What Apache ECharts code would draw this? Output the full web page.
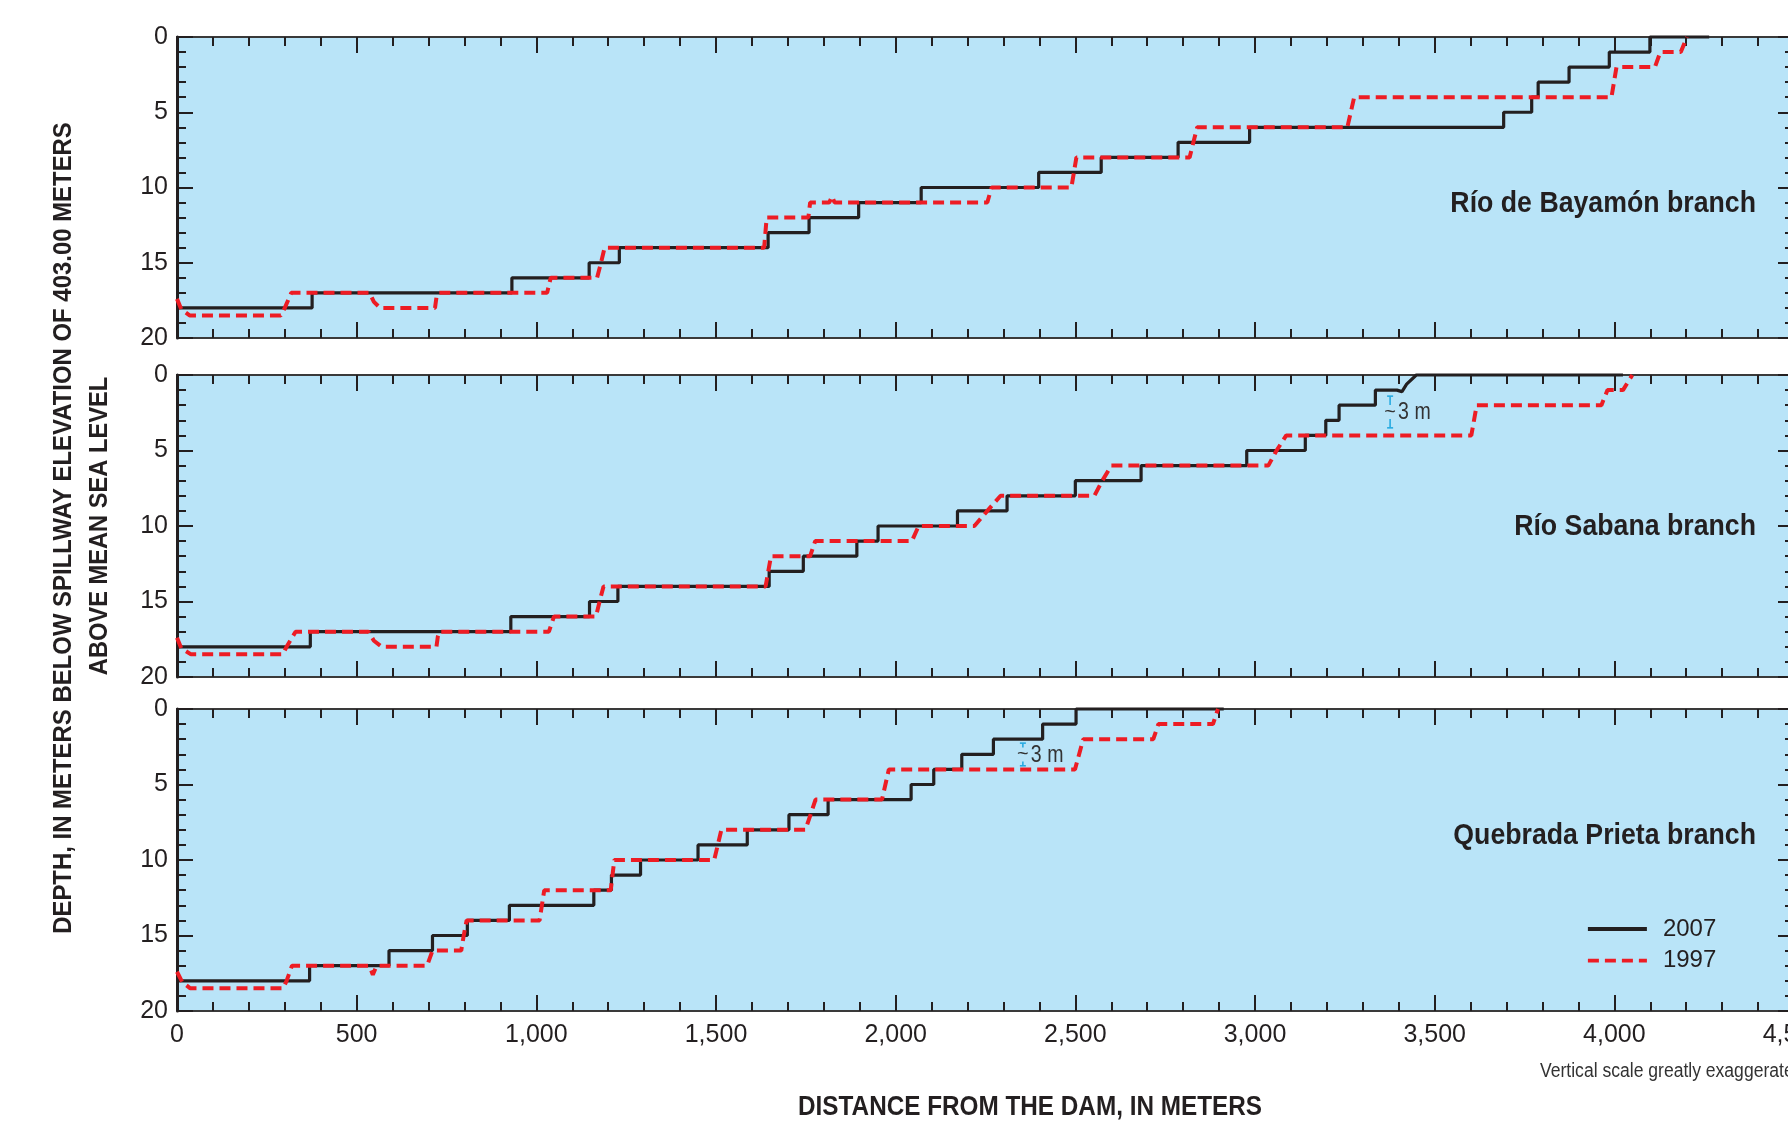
<!DOCTYPE html>
<html>
<head>
<meta charset="utf-8">
<script src="https://cdn.jsdelivr.net/npm/echarts@6/dist/echarts.min.js"></script>
<style>
html,body{margin:0;padding:0;background:#ffffff;}
#chart{width:1788px;height:1123px;}
</style>
</head>
<body>
<div id="chart"></div>
<script>
// ---------- data ----------
const distanceTicks = [0, 500, 1000, 1500, 2000, 2500, 3000, 3500, 4000, 4500];
const depthTicks = [0, 5, 10, 15, 20];
const branchNames = ['Río de Bayamón branch', 'Río Sabana branch', 'Quebrada Prieta branch'];
const surveyYears = ['2007', '1997'];

// [distance from dam (m), depth below spillway (m)]
const bayamon2007 = [[0,18],[376,18],[376,17],[932,17],[932,16],[1147,16],[1147,15],[1231,15],[1231,14],[1645,14],[1645,13],[1759,13],[1759,12],[1897,12],[1897,11],[2071,11],[2071,10],[2398,10],[2398,9],[2572,9],[2572,8],[2786,8],[2786,7],[2985,7],[2985,6],[3692,6],[3692,5],[3770,5],[3770,4],[3788,4],[3788,3],[3874,3],[3874,2],[3986,2],[3986,1],[4099,1],[4099,0],[4264,0]];
const bayamon1997 = [[0,17.4],[12,18.1],[35,18.5],[289,18.5],[300,18],[318,17],[536,17],[548,17.6],[565,18],[718,18],[722,17.3],[728,17],[1030,17],[1040,16],[1169,16],[1180,15],[1190,14],[1634,14],[1641,12],[1757,12],[1762,11],[1815,11],[1823,10.6],[1830,11],[2255,11],[2267,10],[2489,10],[2503,8],[2818,8],[2839,6],[3257,6],[3276,4],[3992,4],[4006,2],[4113,2],[4128,1],[4185,1],[4202,0]];

const sabana2007 = [[0,18],[371,18],[371,17],[929,17],[929,16],[1148,16],[1148,15],[1227,15],[1227,14],[1648,14],[1648,13],[1743,13],[1743,12],[1892,12],[1892,11],[1951,11],[1951,10],[2172,10],[2172,9],[2310,9],[2310,8],[2500,8],[2500,7],[2683,7],[2683,6],[2977,6],[2977,5],[3140,5],[3140,4],[3197,4],[3197,3],[3234,3],[3234,2],[3335,2],[3335,1],[3395,1],[3409,1.1],[3422,0.6],[3449,0],[4024,0]];
const sabana1997 = [[0,17.4],[12,18.1],[39,18.5],[294,18.5],[305,18],[330,17],[533,17],[548,17.6],[570,18],[722,18],[726,17.3],[730,17],[1035,17],[1049,16],[1166,16],[1176,15],[1187,14],[1638,14],[1653,12],[1762,12],[1776,11],[2045,11],[2064,10],[2219,10],[2255,9],[2292,8],[2553,8],[2575,7],[2600,6],[3037,6],[3060,5],[3087,4],[3602,4],[3617,2],[3964,2],[3981,1],[4024,1],[4050,0]];

const prieta2007 = [[0,18],[369,18],[369,17],[590,17],[590,16],[711,16],[711,15],[808,15],[808,14],[925,14],[925,13],[1160,13],[1160,12],[1209,12],[1209,11],[1290,11],[1290,10],[1450,10],[1450,9],[1587,9],[1587,8],[1703,8],[1703,7],[1812,7],[1812,6],[2043,6],[2043,5],[2106,5],[2106,4],[2184,4],[2184,3],[2272,3],[2272,2],[2409,2],[2409,1],[2502,1],[2502,0],[2913,0]];
const prieta1997 = [[0,17.4],[15,18.1],[37,18.5],[295,18.5],[305,18],[320,17],[533,17],[540,17.3],[545,17.6],[552,17.2],[557,17],[696,17],[711,16],[791,16],[798,15],[806,14],[1009,14],[1022,12],[1207,12],[1217,10],[1495,10],[1515,8],[1749,8],[1777,6],[1962,6],[1981,4],[2499,4],[2522,2],[2717,2],[2731,1],[2883,1],[2897,0]];

// "~3 m" gap markers: [distance, top depth, bottom depth]
const sabanaGap = [3376, 1.4, 3.5];
const prietaGap = [2354, 2.26, 3.76];
const gapLabel = '3 m';

// ---------- styling ----------
const FONT = "'Liberation Sans', Arial, sans-serif";
const INK = '#231f20';
const FRAME = '#3a3a3a';
const WATER = '#b9e4f8';
const RED = '#ed1c24';
const CYAN = '#27aae1';

const panels = [
  {top: 37, height: 301, s07: bayamon2007, s97: bayamon1997, gap: null, labelY: 204},
  {top: 375, height: 302, s07: sabana2007, s97: sabana1997, gap: sabanaGap, labelY: 527},
  {top: 709, height: 302, s07: prieta2007, s97: prieta1997, gap: prietaGap, labelY: 836}
];

const xMin = distanceTicks[0], xMax = distanceTicks[distanceTicks.length - 1];
const xStep = distanceTicks[1] - distanceTicks[0];
const yMin = depthTicks[0], yMax = depthTicks[depthTicks.length - 1];
const yStep = depthTicks[1] - depthTicks[0];

const grid = [], xAxis = [], yAxis = [], series = [], graphic = [];

const tickCommon = {
  axisTick: {show: true, inside: true, length: 16, lineStyle: {color: INK, width: 2}},
  minorTick: {show: true, splitNumber: 5, length: 9, lineStyle: {color: INK, width: 2}},
  splitLine: {show: false},
  minorSplitLine: {show: false}
};

panels.forEach((p, i) => {
  grid.push({left: 177, width: 1617, top: p.top, height: p.height, show: true,
    containLabel: false, outerBoundsMode: 'none',
    backgroundColor: WATER, borderColor: FRAME, borderWidth: 2});
  ['bottom', 'top'].forEach(pos => {
    xAxis.push(Object.assign({
      type: 'value', gridIndex: i, position: pos, min: xMin, max: xMax, interval: xStep,
      axisLine: {show: pos === 'bottom', onZero: false, lineStyle: {color: FRAME, width: 2}},
      axisLabel: {show: pos === 'bottom' && i === 2, margin: 12, color: INK, fontFamily: FONT, fontSize: 25,
        formatter: v => v.toLocaleString('en-US')}
    }, tickCommon));
  });
  ['left', 'right'].forEach(pos => {
    yAxis.push(Object.assign({
      type: 'value', gridIndex: i, position: pos, inverse: true, min: yMin, max: yMax, interval: yStep,
      axisLine: {show: pos === 'left', onZero: false, lineStyle: {color: INK, width: 3}},
      axisLabel: {show: pos === 'left', margin: 9, color: INK, fontFamily: FONT, fontSize: 25}
    }, tickCommon));
  });
  series.push({name: surveyYears[0], type: 'line', xAxisIndex: 2 * i, yAxisIndex: 2 * i,
    data: p.s07, symbol: 'none', clip: false, z: 3,
    lineStyle: {color: INK, width: 3.2}, itemStyle: {color: INK}});
  series.push({name: surveyYears[1], type: 'line', xAxisIndex: 2 * i, yAxisIndex: 2 * i,
    data: p.s97, symbol: 'none', clip: false, z: 4,
    lineStyle: {color: RED, width: 4, type: [11, 6]}, itemStyle: {color: RED}});
  if (p.gap) {
    series.push({name: 'gap' + i, type: 'custom', xAxisIndex: 2 * i, yAxisIndex: 2 * i,
      data: [p.gap], z: 5, clip: false,
      renderItem: (params, api) => {
        const a = api.coord([api.value(0), api.value(1)]);
        const b = api.coord([api.value(0), api.value(2)]);
        const mid = (a[1] + b[1]) / 2;
        const ls = {stroke: CYAN, lineWidth: 1.6};
        return {type: 'group', children: [
          {type: 'line', shape: {x1: a[0], y1: a[1], x2: a[0], y2: mid - 7}, style: ls},
          {type: 'line', shape: {x1: a[0], y1: mid + 7, x2: a[0], y2: b[1]}, style: ls},
          {type: 'line', shape: {x1: a[0] - 3, y1: a[1], x2: a[0] + 3, y2: a[1]}, style: ls},
          {type: 'line', shape: {x1: a[0] - 3, y1: b[1], x2: a[0] + 3, y2: b[1]}, style: ls},
          {type: 'text', x: a[0], y: mid, style: {text: '~', x: 0, y: 0, align: 'center', verticalAlign: 'middle',
            fill: '#333', font: '20px ' + FONT}},
          {type: 'text', x: a[0] + 8, y: mid + 1, scaleX: 0.85,
            style: {text: gapLabel, x: 0, y: 0, align: 'left', verticalAlign: 'middle',
            fill: '#333', font: '23px ' + FONT}}
        ]};
      }});
  }
  graphic.push({type: 'text', x: 1756, y: p.labelY, scaleX: 0.89, z: 10,
    style: {text: branchNames[i], fill: INK, font: 'bold 30px ' + FONT, align: 'right', verticalAlign: 'middle'}});
});

graphic.push({type: 'text', x: 1540, y: 1072, scaleX: 0.9, z: 10,
  style: {text: 'Vertical scale greatly exaggerated', fill: '#333', font: '19.5px ' + FONT,
    align: 'left', verticalAlign: 'middle'}});
graphic.push({type: 'text', x: 1030, y: 1108, scaleX: 0.9, z: 10,
  style: {text: 'DISTANCE FROM THE DAM, IN METERS', fill: INK, font: 'bold 27px ' + FONT,
    align: 'center', verticalAlign: 'middle'}});
graphic.push({type: 'text', x: 64, y: 528, rotation: Math.PI / 2, scaleX: 0.92, z: 10,
  style: {text: 'DEPTH, IN METERS BELOW SPILLWAY ELEVATION OF 403.00 METERS', fill: INK,
    font: 'bold 26px ' + FONT, align: 'center', verticalAlign: 'middle'}});
graphic.push({type: 'text', x: 100, y: 526, rotation: Math.PI / 2, scaleX: 0.91, z: 10,
  style: {text: 'ABOVE MEAN SEA LEVEL', fill: INK,
    font: 'bold 26px ' + FONT, align: 'center', verticalAlign: 'middle'}});

const chart = echarts.init(document.getElementById('chart'), null, {renderer: 'canvas'});
chart.setOption({
  backgroundColor: '#ffffff',
  animation: false,
  grid, xAxis, yAxis, series, graphic,
  legend: {
    data: surveyYears, orient: 'vertical', left: 1581, top: 912, padding: 5,
    itemWidth: 59, itemHeight: 14, itemGap: 7.6, selectedMode: false,
    itemStyle: {opacity: 0},
    lineStyle: {width: 3.8},
    textStyle: {color: INK, fontFamily: FONT, fontSize: 24, padding: [0, 0, 0, 11]}
  }
});
</script>
</body>
</html>
